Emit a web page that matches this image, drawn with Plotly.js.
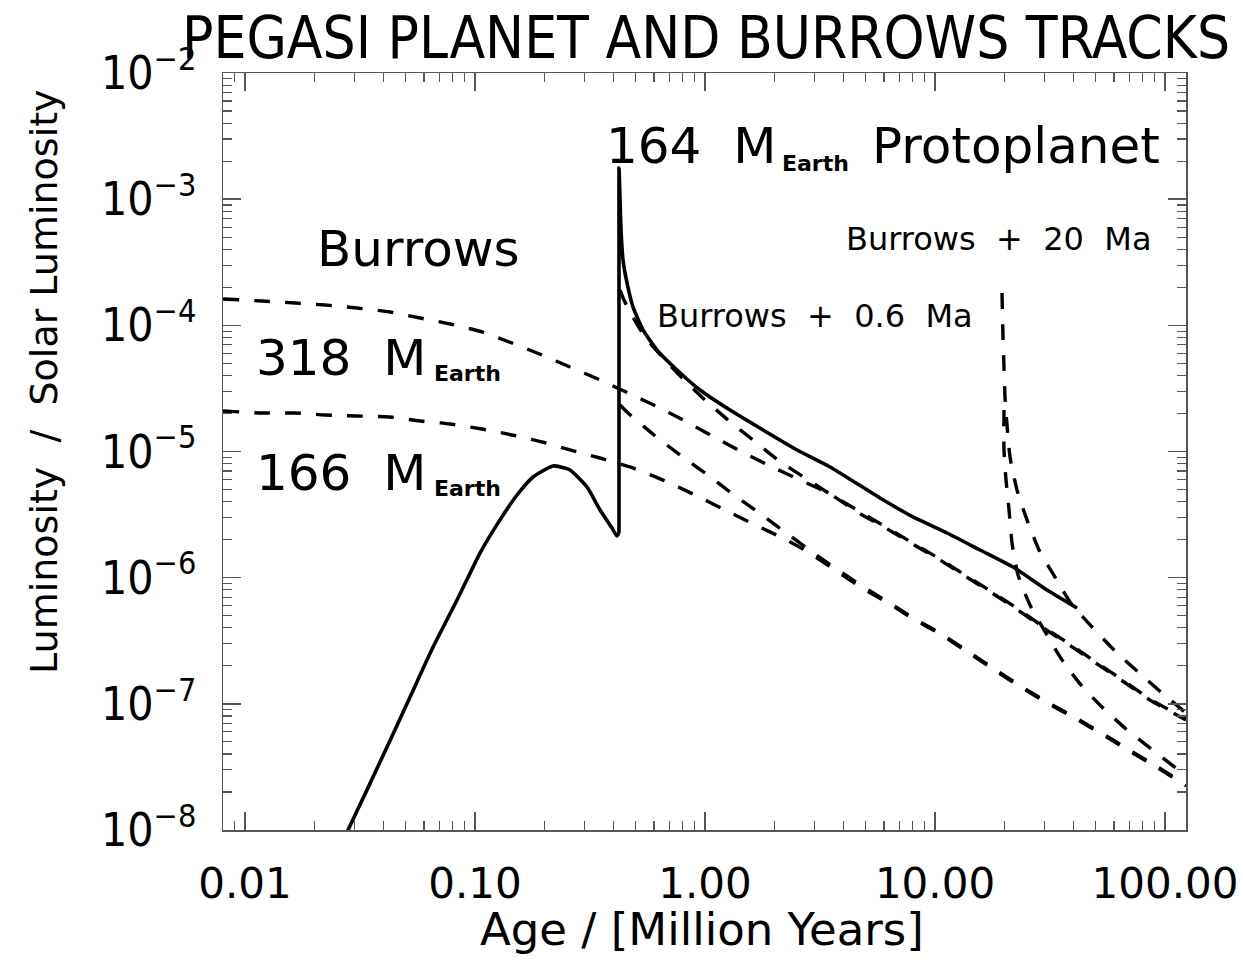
<!DOCTYPE html>
<html>
<head>
<meta charset="utf-8">
<script src="https://cdn.plot.ly/plotly-3.0.1.min.js"></script>
<style>html,body{margin:0;padding:0;background:#fff;}#chart{width:1243px;height:961px;}</style>
</head>
<body>
<div id="chart"></div>
<script>
// ---- data (Age in Myr, Luminosity in solar units) ----
const protoRiseAge = [0.02615,0.02804,0.03391,0.04144,0.05218,0.06569,0.08351,0.1051,0.1284,0.1523,0.1788,0.2183,0.2588,0.3069,0.3495,0.394,0.4142,0.4226];
const protoRiseLum = [7.61e-9,1.0e-8,2.08e-8,4.55e-8,1.133e-7,2.82e-7,6.65e-7,1.568e-6,2.87e-6,4.52e-6,6.28e-6,7.68e-6,7.14e-6,5.23e-6,3.44e-6,2.48e-6,2.14e-6,2.26e-6];
const protoDecayAge = [0.4226,0.4226,0.4271,0.4313,0.44,0.458,0.4862,0.5375,0.6183,0.7555,0.9512,1.284,1.787,2.512,3.496,5.767,8.023,11.28,15.69,21.84,30.69,41.44];
const protoDecayLum = [2.26e-6,1.766e-3,9.85e-4,5.69e-4,3.30e-4,2.17e-4,1.398e-4,9.19e-5,6.37e-5,4.43e-5,3.07e-5,2.13e-5,1.481e-5,1.028e-5,7.54e-6,4.28e-6,3.03e-6,2.26e-6,1.657e-6,1.215e-6,7.99e-7,5.75e-7];

const burrows318Age = [0.00802,0.01186,0.0165,0.02227,0.03069,0.04272,0.05767,0.07786,0.1072,0.1448,0.1956,0.2588,0.3495,0.4626,0.6122,0.8186,1.094,1.448,1.917,2.588,3.496,4.58,6.002,7.865,10.31,13.5,17.69,22.96,30.08,39.02,50.62,66.32,86.05,123.4];
const burrows318Lum = [1.617e-4,1.559e-4,1.503e-4,1.449e-4,1.372e-4,1.275e-4,1.143e-4,1.025e-4,8.86e-5,7.24e-5,5.82e-5,4.67e-5,3.69e-5,2.91e-5,2.29e-5,1.745e-5,1.303e-5,9.91e-6,7.68e-6,5.94e-6,4.60e-6,3.32e-6,2.52e-6,1.88e-6,1.41e-6,1.03e-6,7.56e-7,5.54e-7,3.92e-7,2.87e-7,2.07e-7,1.49e-7,1.07e-7,7.45e-8];

const burrows166Age = [0.00802,0.01186,0.0165,0.02227,0.03069,0.04272,0.05767,0.07786,0.1072,0.1448,0.1956,0.2588,0.3495,0.472,0.670,0.905,1.222,1.650,2.227,2.804,3.675,4.815,6.248,8.185,10.51,13.23,18.42,23.89,31.31,41.02,54.83,71.15,93.24,123.4];
const burrows166Lum = [2.095e-5,2.019e-5,2.019e-5,1.947e-5,1.911e-5,1.877e-5,1.745e-5,1.652e-5,1.508e-5,1.351e-5,1.189e-5,1.028e-5,8.88e-6,7.54e-6,5.84e-6,4.52e-6,3.44e-6,2.62e-6,2.02e-6,1.597e-6,1.150e-6,8.28e-7,6.30e-7,4.62e-7,3.58e-7,2.72e-7,1.82e-7,1.335e-7,9.97e-8,7.58e-8,5.56e-8,4.15e-8,3.10e-8,2.23e-8];

const plus06_318Age = [0.4271,0.4444,0.472,0.5484,0.670,0.7943,1.0,1.259,1.617,2.077,2.722,3.496,4.58,6.002,7.865,10.31,13.5,17.69,22.96,30.08,39.02,50.62,66.32,86.05,123.4];
const plus06_318Lum = [1.905e-4,1.588e-4,1.275e-4,8.08e-5,5.31e-5,3.83e-5,2.56e-5,1.777e-5,1.233e-5,8.56e-6,6.17e-6,4.60e-6,3.44e-6,2.57e-6,1.918e-6,1.432e-6,1.050e-6,7.70e-7,5.65e-7,3.99e-7,2.93e-7,2.11e-7,1.517e-7,1.092e-7,7.58e-8];

const plus06_166Age = [0.4271,0.4626,0.6001,0.7785,1.0,1.284,1.650,2.227,2.804,3.675,4.815,6.248,8.185,10.51,13.23,18.42,23.89,31.31,41.02,54.83,71.15,93.24,123.4];
const plus06_166Lum = [2.336e-5,2.019e-5,1.351e-5,9.38e-6,6.76e-6,4.78e-6,3.44e-6,2.30e-6,1.688e-6,1.193e-6,8.59e-7,6.42e-7,4.70e-7,3.64e-7,2.77e-7,1.854e-7,1.360e-7,1.015e-7,7.72e-8,5.66e-8,4.23e-8,3.16e-8,2.27e-8];

const plus20_318Age = [19.56,19.75,19.95,20.15,20.56,21.19,22.73,25.12,28.33,33.24,38.64,48.15,61.24,76.30,97.05,123.4];
const plus20_318Lum = [1.804e-4,8.08e-5,4.67e-5,2.70e-5,1.622e-5,9.05e-6,4.95e-6,2.87e-6,1.657e-6,1.012e-6,6.42e-7,4.07e-7,2.58e-7,1.79e-7,1.219e-7,8.46e-8];

const plus20_166Age = [19.95,19.95,20.36,20.98,21.62,22.96,25.88,29.78,35.66,43.13,53.21,67.68,86.05,111.6,123.4];
const plus20_166Lum = [2.13e-5,1.028e-5,5.94e-6,3.44e-6,1.88e-6,1.050e-6,6.07e-7,3.85e-7,2.23e-7,1.41e-7,9.44e-8,6.32e-8,4.47e-8,3.10e-8,2.73e-8];

// ---- tick labels ----
const xTickVals = [0.01,0.1,1,10,100];
const xTickText = ['0.01','0.10','1.00','10.00','100.00'];
const yTickVals = [1e-8,1e-7,1e-6,1e-5,1e-4,1e-3,1e-2];
const yTickText = ['10<sup>\u22128</sup>','10<sup>\u22127</sup>','10<sup>\u22126</sup>','10<sup>\u22125</sup>','10<sup>\u22124</sup>','10<sup>\u22123</sup>','10<sup>\u22122</sup>'];

const xMinor = [];
[0.001,0.01,0.1,1,10].forEach(d => { for (let k = 2; k <= 9; k++) { const v = d*k; if (v > 0.00805 && v < 123) xMinor.push(v); } });
const yMinor = [];
[1e-8,1e-7,1e-6,1e-5,1e-4,1e-3].forEach(d => { for (let k = 2; k <= 9; k++) yMinor.push(d*k); });

function dashed(x, y) {
  return {x:x, y:y, mode:'lines', type:'scatter', line:{color:'#000', width:3.4, dash:'16px,15px', shape:'spline', smoothing:0.6}, hoverinfo:'skip', showlegend:false};
}
function solid(x, y) {
  return {x:x, y:y, mode:'lines', type:'scatter', line:{color:'#000', width:3.6, shape:'spline', smoothing:0.5}, hoverinfo:'skip', showlegend:false};
}

const traces = [
  dashed(burrows318Age, burrows318Lum),
  dashed(burrows166Age, burrows166Lum),
  dashed(plus06_318Age, plus06_318Lum),
  dashed(plus06_166Age, plus06_166Lum),
  dashed(plus20_318Age, plus20_318Lum),
  dashed(plus20_166Age, plus20_166Lum),
  solid(protoRiseAge, protoRiseLum),
  solid(protoDecayAge, protoDecayLum)
];

const axisCommon = {
  type:'log', showline:true, linecolor:'#555', linewidth:1.5, mirror:'allticks',
  ticks:'inside', ticklen:18, tickwidth:1.5, tickcolor:'#555', showgrid:false, zeroline:false,
  tickmode:'array'
};

const F = 'DejaVu Sans, Verdana, sans-serif';
const FC = 'DejaVu Sans Condensed, DejaVu Sans, sans-serif';
function ann(text, x, y, size, extra) {
  return Object.assign({text:text, x:x, y:y, xref:'paper', yref:'paper', xanchor:'center', yanchor:'middle', showarrow:false, font:{family:F, size:size, color:'#000'}}, extra||{});
}
const NB = '\u00a0';
const NB2 = NB + NB;

const layout = {
  width:1243, height:961,
  margin:{l:223, r:57, t:73, b:131, pad:0},
  paper_bgcolor:'#fff', plot_bgcolor:'#fff',
  showlegend:false,
  title:{text:'PEGASI PLANET AND BURROWS TRACKS', font:{family:FC, size:58, color:'#000'}, xref:'container', yref:'container', x:0.568, xanchor:'center', y:0.982, yanchor:'top'},
  xaxis:Object.assign({}, axisCommon, {
    range:[Math.log10(0.00802), Math.log10(123.4)],
    tickvals:xTickVals, ticktext:xTickText,
    tickfont:{family:F, size:42, color:'#000'}, ticklabelstandoff:16,
    minor:{tickmode:'array', tickvals:xMinor, ticks:'inside', ticklen:9, tickwidth:1.2, tickcolor:'#555'}
  }),
  yaxis:Object.assign({}, axisCommon, {
    range:[-8, -2],
    tickvals:yTickVals, ticktext:yTickText,
    tickfont:{family:FC, size:46, color:'#000'}, ticklabelstandoff:16,
    minor:{tickmode:'array', tickvals:yMinor, ticks:'inside', ticklen:9, tickwidth:1.2, tickcolor:'#555'}
  }),
  annotations:[
    ann('Burrows', 0.2025, 0.7675, 50),
    ann('318'+NB2+'M', 0.2133, 0.6235, 50, {xanchor:'right'}),
    ann('<b>Earth</b>', 0.2170, 0.6024, 22, {xanchor:'left'}),
    ann('166'+NB2+'M', 0.2133, 0.4716, 50, {xanchor:'right'}),
    ann('<b>Earth</b>', 0.2170, 0.4505, 22, {xanchor:'left'}),
    ann('164'+NB2+'M', 0.5763, 0.9036, 50, {xanchor:'right'}),
    ann('<b>Earth</b>', 0.5784, 0.8811, 22, {xanchor:'left'}),
    ann('Protoplanet', 0.8235, 0.9036, 50),
    ann('Burrows'+NB2+'+'+NB2+'20'+NB2+'Ma', 0.8048, 0.7807, 32),
    ann('Burrows'+NB2+'+'+NB2+'0.6'+NB2+'Ma', 0.6147, 0.6790, 32),
    ann('Luminosity'+NB2+'/'+NB2+'Solar'+NB+'Luminosity', -0.186, 0.5931, 38, {textangle:-90}),
    ann('Age'+NB+'/'+NB+'[Million'+NB+'Years]', 0.4974, -0.1321, 45)
  ]
};

Plotly.newPlot('chart', traces, layout, {displayModeBar:false, staticPlot:true});
</script>
</body>
</html>
